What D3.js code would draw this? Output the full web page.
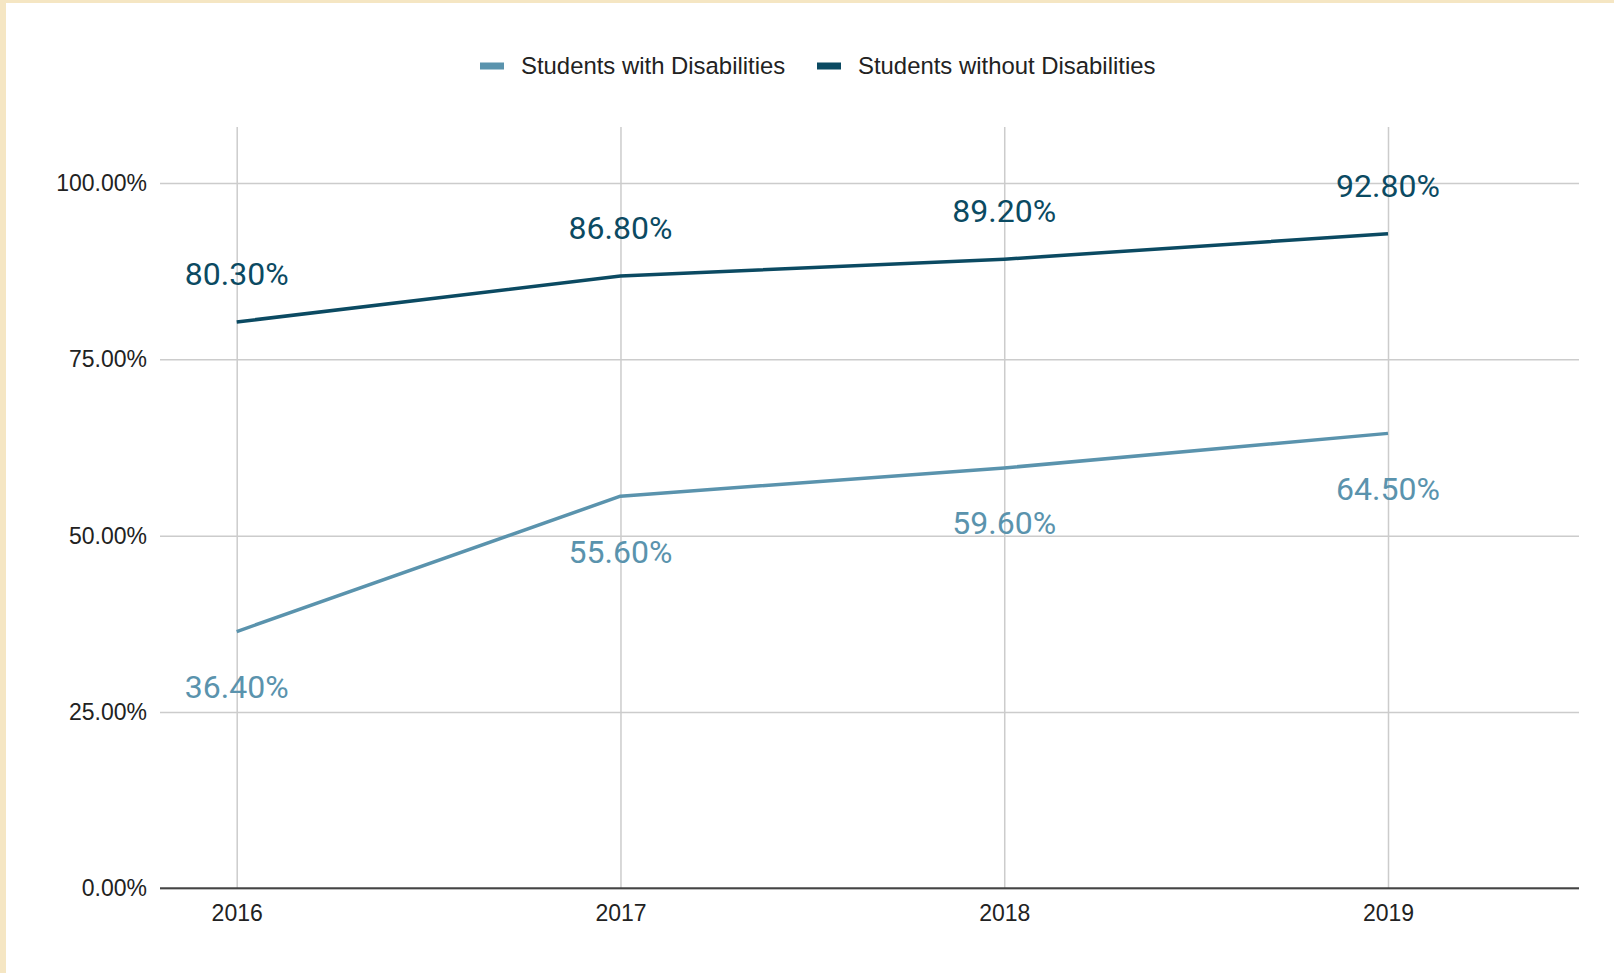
<!DOCTYPE html>
<html>
<head>
<meta charset="utf-8">
<script src="https://cdn.jsdelivr.net/npm/d3@7"></script>
<style>
  html, body { margin: 0; padding: 0; background: #ffffff; }
  svg { display: block; }
</style>
</head>
<body>
<svg id="chart" width="1614" height="973"></svg>
<script>
// Graduation rates by year
const years = ["2016", "2017", "2018", "2019"];
const withDisabilities = [36.4, 55.6, 59.6, 64.5];
const withoutDisabilities = [80.3, 86.8, 89.2, 92.8];
const yTicks = [0, 25, 50, 75, 100];
const seriesNames = ["Students with Disabilities", "Students without Disabilities"];

const colors = { light: "#5a93ad", dark: "#0b4a62" };

const svg = d3.select("#chart");
const W = 1614, H = 973;

// cream frame along the top and left edges
svg.append("rect").attr("x", 0).attr("y", 0).attr("width", W).attr("height", H).attr("fill", "#f5e6c3");
svg.append("rect").attr("x", 6).attr("y", 3).attr("width", W - 6).attr("height", H - 3).attr("fill", "#ffffff");

const plot = { left: 160, right: 1579, top: 183, bottom: 888.3, gridTop: 127 };

const x = d3.scalePoint().domain(years).range([236.7, 1388]);
const y = d3.scaleLinear().domain([0, 100]).range([plot.bottom, plot.top]);

const fmtTick = v => d3.format(".2f")(v) + "%";
const fmtLabel = v => d3.format(".2f")(v) + "%";

// horizontal gridlines + y tick labels
const yAxis = d3.axisLeft(y).tickValues(yTicks).tickFormat(fmtTick)
  .tickSize(-(plot.right - plot.left)).tickPadding(13);
const gy = svg.append("g").attr("transform", `translate(${plot.left},0)`).call(yAxis);
gy.select(".domain").remove();
gy.selectAll(".tick line").attr("stroke", "#cccccc").attr("stroke-width", 1.5);
gy.selectAll(".tick text")
  .attr("font-family", "'Liberation Sans', Arial, sans-serif")
  .attr("font-size", 23).attr("fill", "#222222");

// vertical gridlines + x tick labels
const xAxis = d3.axisBottom(x).tickSize(-(plot.bottom - plot.gridTop)).tickPadding(16);
const gx = svg.append("g").attr("transform", `translate(0,${plot.bottom})`).call(xAxis);
gx.select(".domain").remove();
gx.selectAll(".tick line").attr("stroke", "#cccccc").attr("stroke-width", 1.5);
gx.selectAll(".tick text")
  .attr("font-family", "'Liberation Sans', Arial, sans-serif")
  .attr("font-size", 23).attr("fill", "#222222");

// baseline
svg.append("line")
  .attr("x1", plot.left).attr("x2", plot.right)
  .attr("y1", y(0)).attr("y2", y(0))
  .attr("stroke", "#444444").attr("stroke-width", 2);

const line = d3.line().x(d => x(d.year)).y(d => y(d.value));

const series = [
  { name: seriesNames[0], values: withDisabilities, color: colors.light, labelDy: 66.5 },
  { name: seriesNames[1], values: withoutDisabilities, color: colors.dark, labelDy: -37 }
];

series.forEach(s => {
  const pts = years.map((yr, i) => ({ year: yr, value: s.values[i] }));
  svg.append("path").datum(pts)
    .attr("fill", "none").attr("stroke", s.color).attr("stroke-width", 3.5)
    .attr("stroke-linejoin", "round")
    .attr("d", line);
  svg.append("g").selectAll("text").data(pts).join("text")
    .attr("x", d => x(d.year))
    .attr("y", d => y(d.value) + s.labelDy)
    .attr("text-anchor", "middle")
    .attr("font-family", "Roboto, sans-serif")
    .attr("font-size", 32)
    .attr("fill", s.color)
    .text(d => fmtLabel(d.value));
});

// legend
const legend = svg.append("g").attr("font-family", "'Liberation Sans', Arial, sans-serif").attr("font-size", 23.9);
const legendItems = [
  { name: seriesNames[0], color: colors.light, x: 480 },
  { name: seriesNames[1], color: colors.dark, x: 817 }
];
legendItems.forEach(item => {
  legend.append("rect").attr("x", item.x).attr("y", 62.5).attr("width", 24).attr("height", 7).attr("fill", item.color);
  legend.append("text").attr("x", item.x + 41).attr("y", 74).attr("fill", "#222222").text(item.name);
});
</script>
</body>
</html>
